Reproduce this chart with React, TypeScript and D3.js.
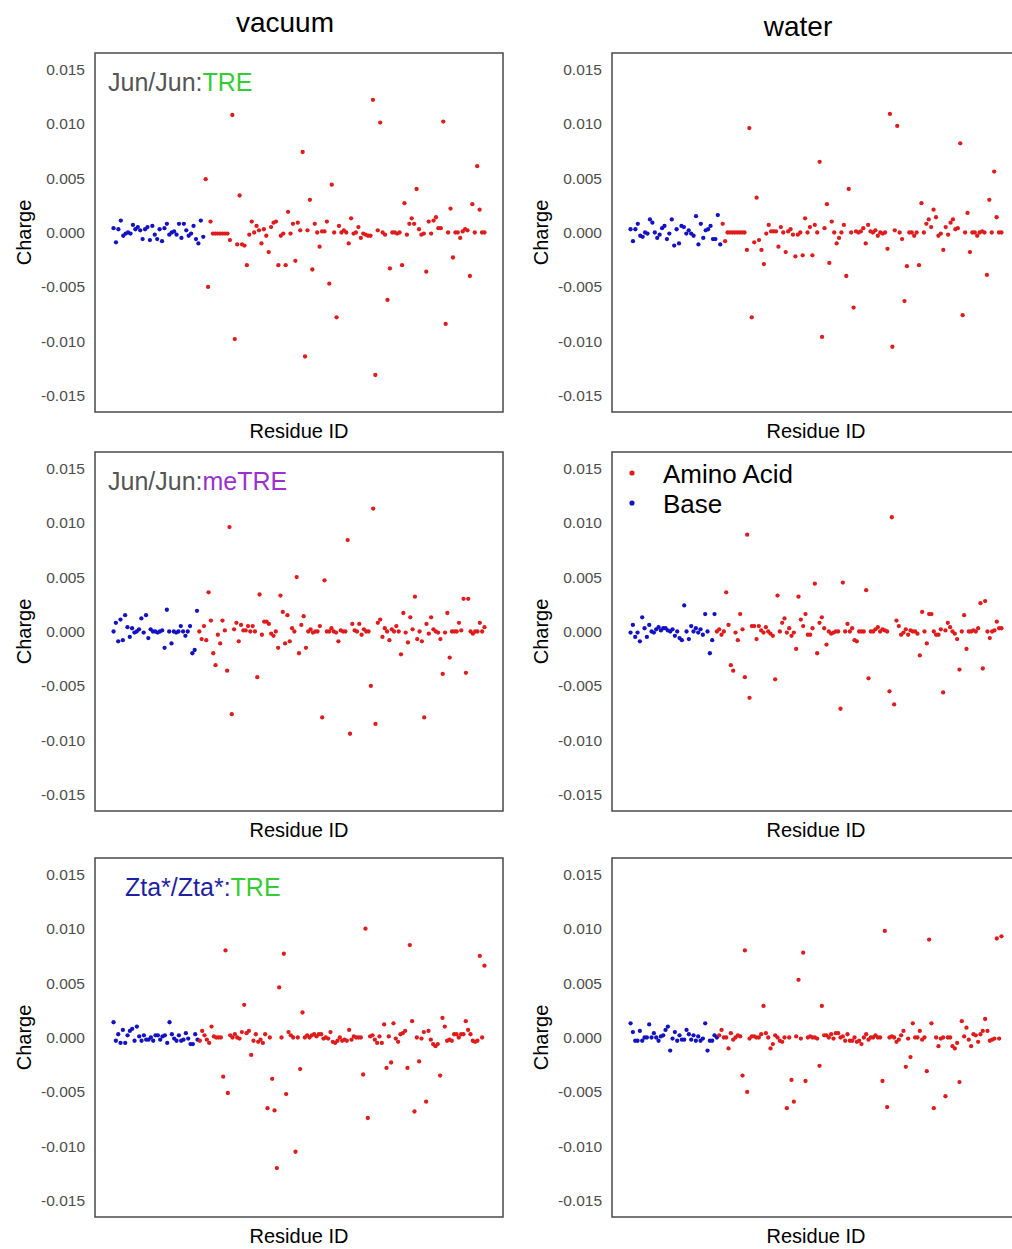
import React from "react";
import * as d3 from "d3";

// charge values below are in units of 0.001
const MILLI = 1e-3;

const jjTreVacBase = [0.4,-0.9,0.3,1.1,-0.3,-0.1,0.0,-0.1,0.7,0.3,0.5,0.2,-0.6,0.3,0.5,-0.7,0.6,-0.2,-0.6,0.3,-0.8,0.4,0.8,-0.2,0.0,0.1,-0.2,0.8,-0.5,0.8,0.2,-0.3,-0.1,0.6,-0.6,-1.0,1.1,-0.4];
const jjTreVacAA = [4.9,-5.0,1.0,-0.1,-0.1,-0.1,-0.1,-0.1,-0.1,-0.1,-0.7,10.8,-9.8,-1.1,3.4,-1.1,-1.2,-3.0,-0.2,1.0,0.0,0.6,0.2,-1.0,0.3,-0.3,-1.8,0.5,0.9,1.0,-3.0,-0.3,-0.1,-3.0,1.9,-0.1,0.8,-2.6,0.9,0.2,7.4,-11.4,0.2,3.0,-3.4,0.8,0.0,-1.3,0.1,0.1,1.0,-4.7,4.4,0.0,-7.8,0.6,0.0,0.2,0.0,-1.0,1.3,-0.1,0.0,0.5,-0.5,-0.1,-0.2,-0.3,-0.3,12.2,-13.1,0.2,10.1,0.0,-0.2,-6.2,-3.3,0.0,0.0,-0.1,0.0,-3.0,2.7,-0.2,0.8,1.3,0.8,4.0,0.3,-0.2,-0.1,-3.6,1.0,-0.1,1.1,1.4,0.4,0.4,10.2,-8.4,0.0,2.2,-2.3,0.0,0.0,-0.5,0.1,0.3,0.2,-4.0,2.6,0.0,6.1,2.1,0.0,0.0];

const jjTreWatBase = [0.3,-0.8,0.3,0.8,-0.3,-0.4,0.0,-0.1,1.2,0.9,0.0,-0.5,-0.2,0.4,0.6,-0.6,-0.1,1.2,-1.2,0.3,-1.0,0.6,0.5,-0.1,0.2,-0.1,-0.3,1.5,-1.1,0.8,-0.5,0.2,0.3,0.6,-0.6,-0.6,1.6,-1.1];
const jjTreWatAA = [0.8,-0.8,0.0,0.0,0.0,0.0,0.0,0.0,0.0,0.0,-1.6,9.6,-7.8,-0.9,3.2,-0.7,-1.6,-2.9,-0.1,0.7,0.1,0.1,0.1,-1.3,0.5,0.0,-1.8,0.1,0.3,-0.2,-2.2,-0.2,0.0,-2.1,1.3,0.0,0.5,-2.1,0.7,0.0,6.5,-9.6,0.4,2.6,-2.8,1.0,0.0,-1.0,-0.5,0.0,0.7,-4.0,4.0,0.0,-6.9,0.1,0.0,0.1,0.4,-1.0,0.7,0.1,0.0,0.2,-0.3,0.0,-0.1,0.0,-1.5,10.9,-10.5,0.2,9.8,0.0,-0.6,-6.3,-3.1,0.0,0.0,-0.3,0.0,-3.0,2.7,0.0,0.8,1.2,0.5,2.1,1.4,-0.3,-0.1,-1.6,0.5,-0.2,0.9,1.2,0.3,0.4,8.2,-7.6,0.0,1.8,-1.8,0.0,0.0,-0.3,0.0,0.1,0.0,-3.9,3.0,0.0,5.6,1.4,0.0,0.0];

const jjMeVacBase = [0.0,0.8,-0.9,1.1,-0.8,1.5,0.4,-0.5,0.3,-0.1,0.0,0.2,1.2,-0.1,1.5,-0.6,0.2,0.0,0.0,-0.1,0.0,0.1,-1.5,2.0,0.0,-1.1,0.0,-0.1,0.0,0.5,0.0,-0.4,0.0,0.5,-2.0,-1.7,1.9];
const jjMeVacAA = [0.0,-0.7,0.5,-0.8,3.6,1.0,-2.0,-3.1,-0.3,-1.1,1.0,0.1,-3.6,9.6,-7.6,0.2,0.8,-0.9,0.6,0.1,0.1,0.5,0.0,0.5,0.0,-4.2,3.4,-0.3,0.9,0.9,0.7,-0.2,-0.4,0.0,-1.5,3.3,1.8,-1.1,1.5,-0.9,0.3,0.0,5.0,-2.0,0.6,1.4,-1.5,0.0,0.2,-0.1,0.0,0.0,0.5,-7.9,4.7,0.0,0.0,0.3,0.0,-0.1,-0.9,0.1,0.0,0.0,8.4,-9.4,0.7,0.1,0.0,0.7,-0.3,0.2,0.0,0.0,-5.0,11.3,-8.5,0.8,1.1,-0.5,0.3,0.0,-0.8,0.2,0.0,0.5,0.0,-2.1,1.7,-0.1,-1.0,1.3,0.2,3.2,-0.7,0.0,-0.9,-7.9,0.7,-0.2,1.3,0.2,0.0,-0.1,-0.7,-3.9,-0.1,1.7,-2.4,0.0,0.0,0.0,0.8,0.1,3.0,-3.8,3.0,0.0,-0.2,0.0,0.0,0.8,0.0,0.4];

const jjMeWatBase = [-0.1,0.6,-0.5,-0.1,-0.9,1.3,0.3,-0.5,0.6,0.0,-0.1,0.2,0.4,0.1,0.3,0.3,0.1,0.0,0.2,-0.4,0.0,-0.6,-0.8,2.4,0.0,-0.7,0.5,0.0,0.3,-0.1,0.2,-0.3,1.6,0.0,-2.0,-0.8,1.6];
const jjMeWatAA = [0.0,0.2,-0.3,0.0,3.6,0.6,-3.1,-3.6,-0.1,-0.8,1.6,0.2,-4.2,8.9,-6.1,0.5,0.5,-0.7,0.5,0.1,-0.1,0.4,0.0,-0.2,-0.4,-4.4,3.3,0.0,0.8,1.2,-0.1,0.3,-0.4,-0.1,-1.6,3.2,1.1,0.5,1.6,-0.3,-0.3,0.3,4.4,-2.0,0.8,1.3,0.3,-1.2,0.0,-0.2,-0.1,0.0,0.0,-7.1,4.5,0.0,0.7,0.0,0.3,-0.8,-0.9,0.0,0.0,0.0,3.8,-4.3,0.0,0.0,0.2,0.4,0.0,0.2,0.1,0.0,-5.5,10.5,-6.7,1.0,0.5,-0.3,-0.1,0.2,-0.3,0.1,0.0,0.0,-0.2,-2.2,1.8,0.0,-1.1,1.6,1.6,0.0,-0.3,-0.3,0.2,-5.6,0.1,0.8,0.4,0.0,-0.2,-0.7,-3.5,0.0,1.5,-1.6,0.0,0.0,0.1,0.0,0.3,2.6,-3.4,2.8,0.0,-0.6,0.0,0.1,0.9,0.3,0.3];

const ztaVacBase = [1.4,-0.3,0.3,-0.5,0.7,-0.5,0.2,0.6,0.8,-0.3,1.0,0.1,-0.3,0.2,-0.2,-0.2,0.0,-0.3,0.2,0.2,-0.2,0.1,0.2,-0.5,1.4,0.3,-0.1,-0.3,0.2,-0.3,-0.2,0.4,-0.1,-0.6,-0.6,0.3,-0.2];
const ztaVacAA = [-0.3,0.6,0.2,-0.2,-0.5,1.0,0.1,0.0,0.0,0.0,-3.6,8.0,-5.1,0.2,0.0,0.3,0.0,-0.1,0.5,3.0,0.4,0.6,-1.6,-0.3,0.3,-0.4,-0.2,-0.5,0.3,-6.5,0.0,-3.8,-6.7,-12.0,4.6,0.0,7.7,-5.2,0.5,0.2,0.0,-10.5,0.0,-2.9,2.3,0.0,0.2,0.0,0.2,0.3,0.1,0.3,0.3,-0.1,0.0,-0.1,0.5,-0.4,-0.5,-0.3,0.0,-0.3,-0.2,-0.3,0.7,-0.2,0.1,0.0,0.0,0.0,-3.4,10.0,-7.4,0.1,0.2,-0.2,-0.5,0.1,-0.5,1.2,-2.8,0.1,-2.3,1.3,-0.1,-0.4,0.3,0.4,0.6,-2.8,8.5,1.5,-6.8,0.0,-2.2,-0.1,0.5,-5.9,0.6,-0.2,-0.6,-0.8,-0.6,-3.5,1.8,1.0,-0.3,-0.2,-0.3,0.3,0.3,0.0,0.3,0.3,1.5,0.7,0.3,-0.3,-0.4,-0.3,7.5,0.0,6.6];

const ztaWatBase = [1.3,0.5,-0.3,-0.3,0.6,-0.3,0.0,0.0,1.2,0.0,0.4,0.0,-0.3,0.1,0.2,0.7,1.0,-1.2,-0.1,0.5,-0.3,0.2,-0.2,-0.2,0.7,0.3,-0.2,0.2,-0.3,0.1,-0.3,-0.1,1.3,-1.2,-0.3,-0.3,0.2,0.0];
const ztaWatAA = [0.2,0.7,0.0,0.0,-1.0,0.4,-0.2,0.0,0.2,0.1,-3.5,8.0,-5.0,-0.1,0.1,0.1,0.0,0.0,0.3,2.9,0.4,0.0,-1.0,-0.6,0.2,0.0,-0.3,-0.4,0.0,-6.5,0.0,-3.9,-5.9,0.1,5.3,-0.1,7.8,-4.0,0.0,0.1,0.0,0.0,-0.1,-2.6,2.9,0.2,0.2,0.0,0.3,-0.1,0.4,0.4,0.0,0.1,-0.3,0.3,-0.3,-0.3,0.0,-0.4,-0.3,-0.6,0.0,0.3,-0.2,0.0,0.0,0.2,0.0,0.0,-4.0,9.8,-6.4,0.0,0.1,0.0,-0.4,-0.2,0.2,0.6,-2.7,-0.1,-1.8,1.3,0.0,0.0,0.6,-0.2,0.0,-3.1,9.0,1.3,-6.5,0.0,-0.8,-0.1,0.0,-5.4,0.0,0.0,-0.8,-1.0,-0.5,-4.1,1.5,0.1,0.9,-0.2,-0.8,0.3,0.2,-0.4,0.3,0.6,1.7,0.6,-0.3,-0.2,-0.1,9.1,-0.1,9.3];

const Y_TICKS = [0.015, 0.010, 0.005, 0.000, -0.005, -0.010, -0.015];
const COLUMNS = ["vacuum", "water"];
const SERIES = ["Amino Acid", "Base"];

const RED = "#e01b1b";
const BLUE = "#1212c4";
const GREEN = "#33cc33";
const PURPLE = "#9b30d0";
const NAVY = "#1f1fa3";
const GRAY = "#555555";
const FONT = "'Liberation Sans', Arial, Helvetica, sans-serif";

const W = 1012;
const H = 1249;
const BOX_W = 408;
const BOX_H = 359;
const COL_X = [95, 612];
const ROW_Y = [53, 452, 858];

type Label = { text: string; color: string }[];

const panels = [
  { row: 0, col: 0, base: jjTreVacBase, aa: jjTreVacAA, label: [{ text: "Jun/Jun:", color: GRAY }, { text: "TRE", color: GREEN }] as Label },
  { row: 0, col: 1, base: jjTreWatBase, aa: jjTreWatAA, label: null },
  { row: 1, col: 0, base: jjMeVacBase, aa: jjMeVacAA, label: [{ text: "Jun/Jun:", color: GRAY }, { text: "meTRE", color: PURPLE }] as Label },
  { row: 1, col: 1, base: jjMeWatBase, aa: jjMeWatAA, label: null, legend: true },
  { row: 2, col: 0, base: ztaVacBase, aa: ztaVacAA, label: [{ text: "Zta*/Zta*:", color: NAVY }, { text: "TRE", color: GREEN }] as Label, labelX: 30 },
  { row: 2, col: 1, base: ztaWatBase, aa: ztaWatAA, label: null },
];

function Panel({ p }: { p: any }) {
  const x0 = COL_X[p.col];
  const y0 = ROW_Y[p.row];
  const n = p.base.length + p.aa.length;
  const pad = (n - 1) * 0.05;
  const x = d3.scaleLinear().domain([-pad, n - 1 + pad]).range([x0, x0 + BOX_W]);
  const y = d3.scaleLinear().domain([-0.0165, 0.0165]).range([y0 + BOX_H, y0]);
  const pts = [
    ...p.base.map((v: number, i: number) => ({ i, v: v * MILLI, c: BLUE })),
    ...p.aa.map((v: number, i: number) => ({ i: i + p.base.length, v: v * MILLI, c: RED })),
  ];
  return (
    <g>
      <rect x={x0} y={y0} width={BOX_W} height={BOX_H} fill="none" stroke="#4a4a4a" strokeWidth={1.5} />
      {Y_TICKS.map((t) => (
        <text key={t} x={x0 - 10} y={y(t)} dy="0.35em" textAnchor="end" fontSize={15.5} fill="#4d4d4d">
          {t.toFixed(3)}
        </text>
      ))}
      <text
        transform={`translate(${x0 - 64},${y0 + BOX_H / 2}) rotate(-90)`}
        textAnchor="middle"
        fontSize={20}
        fill="#000"
      >
        Charge
      </text>
      <text x={x0 + BOX_W / 2} y={y0 + BOX_H + 26} textAnchor="middle" fontSize={20} fill="#000">
        Residue ID
      </text>
      {pts.map((d, k) => (
        <circle key={k} cx={x(d.i)} cy={y(d.v)} r={2.15} fill={d.c} />
      ))}
      {p.label && (
        <text x={x0 + (p.labelX ?? 13)} y={y0 + 38} fontSize={25}>
          {p.label.map((s: any, k: number) => (
            <tspan key={k} fill={s.color}>
              {s.text}
            </tspan>
          ))}
        </text>
      )}
      {p.legend &&
        SERIES.map((s, k) => (
          <g key={s}>
            <circle cx={x0 + 20} cy={y0 + 21 + k * 30} r={2.6} fill={k === 0 ? RED : BLUE} />
            <text x={x0 + 51} y={y0 + 31 + k * 30} fontSize={26} fill="#000">
              {s}
            </text>
          </g>
        ))}
    </g>
  );
}

export default function App() {
  return (
    <svg
      width={W}
      height={H}
      style={{ position: "absolute", left: 0, top: 0, background: "#fff" }}
      fontFamily={FONT}
    >
      <rect width={W} height={H} fill="#fff" />
      <text x={285} y={32} textAnchor="middle" fontSize={28} fill="#000">
        {COLUMNS[0]}
      </text>
      <text x={798} y={36} textAnchor="middle" fontSize={28} fill="#000">
        {COLUMNS[1]}
      </text>
      {panels.map((p, k) => (
        <Panel key={k} p={p} />
      ))}
    </svg>
  );
}
